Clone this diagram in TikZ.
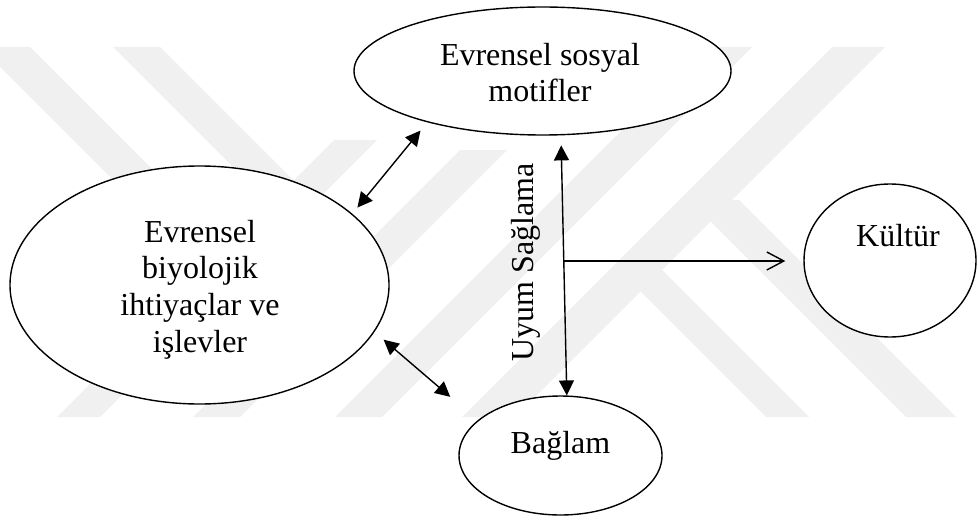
\documentclass[tikz,border=0pt]{standalone}
\usepackage{fontspec}
\setmainfont{Liberation Serif}
\usetikzlibrary{shapes.geometric,arrows.meta,calc,positioning}

\begin{document}
\begin{tikzpicture}[x=0.5pt,y=-0.5pt,line width=0.7pt,
font=\fontsize{16}{18.35}\selectfont]

\tikzstyle{blob}=[ellipse, draw, fill=white, inner sep=0pt]
\tikzstyle{txt}=[align=center, inner sep=0pt]
\tikzstyle{both}=[{Triangle[length=7.5pt,width=7.5pt]}-{Triangle[length=7.5pt,width=7.5pt]}]
\tikzstyle{open}=[-{Straight Barb[length=8.5pt,width=9pt]}]
\tikzstyle{wm}=[fill=black!6, draw=none]

\useasboundingbox (0,0) rectangle (978,519);

%watermark bands
\fill[wm] (-20,47) -- (30,47) -- (183,200) -- (133,200) -- cycle;
\fill[wm] (113,47) -- (160,47) -- (343,230) -- (296,230) -- cycle;
\fill[wm] (57,417) -- (100,417) -- (377,140) -- (334,140) -- cycle;
\fill[wm] (193,417) -- (240,417) -- (507,150) -- (460,150) -- cycle;
\fill[wm] (335,417) -- (382,417) -- (752,47) -- (705,47) -- cycle;
\fill[wm] (462,417) -- (515,417) -- (885,47) -- (832,47) -- cycle;
\fill[wm] (766,417) -- (809,417) -- (662,270) -- (619,270) -- cycle;
\fill[wm] (906,417) -- (956,417) -- (739,200) -- (689,200) -- cycle;

%ellipses
\node[blob, minimum width=188.5pt, minimum height=64pt]
(n1) at (542.5,71)
{};

\node[blob, minimum width=189.5pt, minimum height=119pt]
(n2) at (199.5,285)
{};

\node[blob, minimum width=101.5pt, minimum height=59.5pt]
(n3) at (560.5,455.5)
{};

\node[blob, minimum width=86pt, minimum height=76.5pt]
(n4) at (890,260.5)
{};

%texts
\node[txt] (t1) at (540,72.6) {Evrensel sosyal\\motifler};
\node[txt] (t2) at (200,289.4) {Evrensel\\biyolojik\\ihtiyaçlar ve\\işlevler};
\node[txt, anchor=base] (t3) at (560.5,453) {Bağlam};
\node[txt, anchor=base] (t4) at (898,246.7) {Kültür};
\node[txt, anchor=base, rotate=90] (t5) at (533,262.5) {Uyum Sağlama};

%arrows
\draw[both, shorten <=4pt, shorten >=5.35pt] (n2.25.6) -- (n1.204);
\draw[both, shorten <=6pt, shorten >=18pt] (n2.345.6) -- (n3.157.2);
\draw[both, shorten <=5pt] (n1.286.2) -- (n3.84.7);
\coordinate (m) at ($(n1.286.2)!0.483!(n3.84.7)$);
\draw[open, shorten >=9pt] (m) -- (m -| n4.west);

\end{tikzpicture}
\end{document}
